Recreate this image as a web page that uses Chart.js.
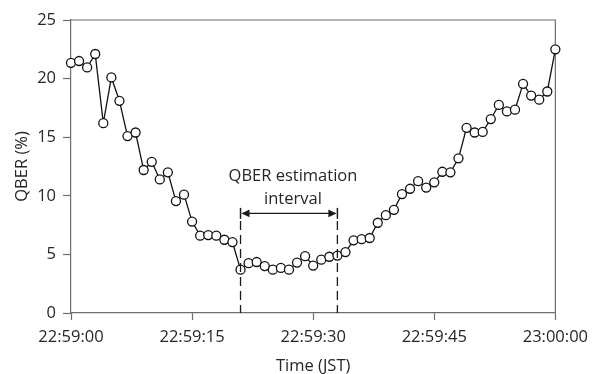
<!DOCTYPE html>
<html>
<head>
<meta charset="utf-8">
<script src="https://cdn.jsdelivr.net/npm/chart.js@4/dist/chart.umd.min.js"></script>
<style>
    html, body { margin: 0; padding: 0; background: #fff; }
    #wrap { width: 595px; height: 374px; }
</style>
</head>
<body>
<div id="wrap"><canvas id="qberChart" width="595" height="374"></canvas></div>
<script>
// --- DONNÉES ---
// secondes écoulées depuis 22:59:00
const seconds = [
    0, 1, 2, 3, 4, 5, 6, 7, 8, 9,
    10, 11, 12, 13, 14, 15, 16, 17, 18, 19,
    20, 21, 22, 23, 24, 25, 26, 27, 28, 29,
    30, 31, 32, 33, 34, 35, 36, 37, 38, 39,
    40, 41, 42, 43, 44, 45, 46, 47, 48, 49,
    50, 51, 52, 53, 54, 55, 56, 57, 58, 59,
    60
];
// QBER (%)
const qber = [
    21.35, 21.5, 20.95, 22.1, 16.2, 20.1, 18.1, 15.1, 15.4, 12.2,
    12.9, 11.4, 12.0, 9.55, 10.1, 7.8, 6.6, 6.65, 6.6, 6.25,
    6.05, 3.7, 4.25, 4.35, 4.0, 3.7, 3.85, 3.7, 4.3, 4.85,
    4.05, 4.55, 4.8, 4.9, 5.2, 6.2, 6.3, 6.4, 7.7, 8.35,
    8.8, 10.15, 10.6, 11.25, 10.7, 11.15, 12.05, 12.0, 13.2, 15.8,
    15.4, 15.45, 16.55, 17.75, 17.2, 17.35, 19.55, 18.55, 18.2, 18.9,
    22.5
];
const timeTicks = ["22:59:00", "22:59:15", "22:59:30", "22:59:45", "23:00:00"];
const qberTicks = [0, 5, 10, 15, 20, 25];

// intervalle d'estimation (en secondes) et hauteur de la flèche (en %)
const intervalStart = 21;
const intervalEnd = 33;
const arrowLevel = 8.5;

const FONT = "'Open Sans', 'Noto Sans', sans-serif";
const FONT_SIZE = 16.5;
const TEXT_COLOR = "#262626";
const AXIS_COLOR = "#6e6e6e";

// cadre autour de la zone de tracé
const framePlugin = {
    id: "frame",
    beforeDatasetsDraw(chart) {
        const { ctx, chartArea: a } = chart;
        ctx.save();
        ctx.strokeStyle = AXIS_COLOR;
        ctx.lineWidth = 1.2;
        ctx.beginPath();
        ctx.moveTo(a.left, a.top);
        ctx.lineTo(a.right, a.top);
        ctx.lineTo(a.right, a.bottom);
        ctx.stroke();
        ctx.restore();
    }
};

// flèche + lignes pointillées + texte
const intervalPlugin = {
    id: "interval",
    afterDatasetsDraw(chart) {
        const { ctx, chartArea: a, scales } = chart;
        const x1 = scales.x.getPixelForValue(intervalStart);
        const x2 = scales.x.getPixelForValue(intervalEnd);
        const y = scales.y.getPixelForValue(arrowLevel);
        const half = 5.5;

        ctx.save();
        ctx.strokeStyle = "#1a1a1a";
        ctx.fillStyle = "#1a1a1a";
        ctx.lineWidth = 1.3;

        // pointillés jusqu'à l'axe
        ctx.setLineDash([9, 5]);
        [x1, x2].forEach(x => {
            ctx.beginPath();
            ctx.moveTo(x, y + half + 2);
            ctx.lineTo(x, a.bottom);
            ctx.stroke();
        });
        ctx.setLineDash([]);

        // barres aux extrémités
        ctx.lineWidth = 1.5;
        [x1, x2].forEach(x => {
            ctx.beginPath();
            ctx.moveTo(x, y - half);
            ctx.lineTo(x, y + half);
            ctx.stroke();
        });

        // trait + pointes
        ctx.lineWidth = 1.3;
        ctx.beginPath();
        ctx.moveTo(x1 + 2, y);
        ctx.lineTo(x2 - 2, y);
        ctx.stroke();
        const head = 8, w = 3.8;
        ctx.beginPath();
        ctx.moveTo(x1 + 1, y);
        ctx.lineTo(x1 + 1 + head, y - w);
        ctx.lineTo(x1 + 1 + head, y + w);
        ctx.closePath();
        ctx.fill();
        ctx.beginPath();
        ctx.moveTo(x2 - 1, y);
        ctx.lineTo(x2 - 1 - head, y - w);
        ctx.lineTo(x2 - 1 - head, y + w);
        ctx.closePath();
        ctx.fill();

        // libellé
        const mid = (x1 + x2) / 2 + 4;
        ctx.fillStyle = TEXT_COLOR;
        ctx.font = `${FONT_SIZE}px ${FONT}`;
        ctx.textAlign = "center";
        ctx.textBaseline = "alphabetic";
        ctx.fillText("QBER estimation", mid, y - 32);
        ctx.fillText("interval", mid, y - 9);
        ctx.restore();
    }
};

let qberChart = null;
function loadQberChart() {
    const ctx = document.getElementById("qberChart").getContext("2d");
    if (qberChart) qberChart.destroy();

    qberChart = new Chart(ctx, {
        type: "line",
        data: {
            datasets: [{
                label: "QBER",
                data: seconds.map((s, i) => ({ x: s, y: qber[i] })),
                borderColor: "#111",
                borderWidth: 1.3,
                tension: 0,
                pointRadius: 4.5,
                pointBackgroundColor: "#fff",
                pointBorderColor: "#111",
                pointBorderWidth: 1.3,
                clip: false
            }]
        },
        options: {
            responsive: false,
            animation: false,
            devicePixelRatio: 1,
            layout: { padding: { top: 20, right: 38, left: 0, bottom: 0 } },
            plugins: {
                legend: { display: false },
                tooltip: { enabled: false }
            },
            scales: {
                x: {
                    type: "linear",
                    min: 0,
                    max: 60,
                    afterBuildTicks: scale => {
                        scale.ticks = timeTicks.map((_, i) => ({ value: i * 15 }));
                    },
                    afterFit: scale => { scale.height = 61; },
                    ticks: {
                        callback: (v, i) => timeTicks[i],
                        color: TEXT_COLOR,
                        font: { family: FONT, size: FONT_SIZE },
                        padding: 7,
                        maxRotation: 0,
                        autoSkip: false
                    },
                    grid: {
                        drawOnChartArea: false,
                        drawTicks: true,
                        tickLength: 7,
                        tickColor: AXIS_COLOR,
                        tickWidth: 1.2
                    },
                    border: { color: AXIS_COLOR, width: 1.2 },
                    title: {
                        display: true,
                        text: "Time (JST)",
                        color: TEXT_COLOR,
                        font: { family: FONT, size: FONT_SIZE },
                        padding: { top: 0, bottom: -2 }
                    }
                },
                y: {
                    min: 0,
                    max: 25,
                    afterBuildTicks: scale => {
                        scale.ticks = qberTicks.map(v => ({ value: v }));
                    },
                    afterFit: scale => { scale.width = 71; },
                    ticks: {
                        color: TEXT_COLOR,
                        font: { family: FONT, size: FONT_SIZE },
                        padding: 7
                    },
                    grid: {
                        drawOnChartArea: false,
                        drawTicks: true,
                        tickLength: 8,
                        tickColor: AXIS_COLOR,
                        tickWidth: 1.2
                    },
                    border: { color: AXIS_COLOR, width: 1.2 },
                    title: {
                        display: true,
                        text: "QBER (%)",
                        color: TEXT_COLOR,
                        font: { family: FONT, size: FONT_SIZE },
                        padding: { top: 12, bottom: 0 }
                    }
                }
            }
        },
        plugins: [framePlugin, intervalPlugin]
    });
}

document.addEventListener("DOMContentLoaded", () => {
    loadQberChart();
});
</script>
</body>
</html>
